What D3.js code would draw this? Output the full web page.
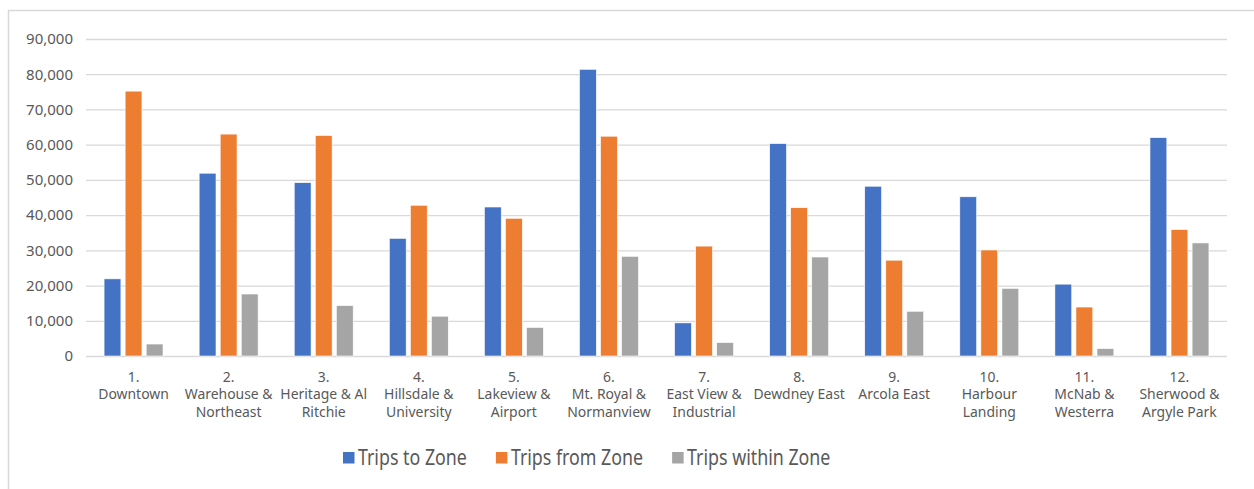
<!DOCTYPE html>
<html>
<head>
<meta charset="utf-8">
<script src="https://cdn.jsdelivr.net/npm/d3@7"></script>
<style>
  body { margin: 0; background: #fff; }
  svg { display: block; font-family: "Noto Sans", "Open Sans", sans-serif; }
</style>
</head>
<body>
<svg id="chart"></svg>
<script>
// Zone names (line breaks as wrapped in the original)
var categories = [
  "1.\nDowntown",
  "2.\nWarehouse &\nNortheast",
  "3.\nHeritage & Al\nRitchie",
  "4.\nHillsdale &\nUniversity",
  "5.\nLakeview &\nAirport",
  "6.\nMt. Royal &\nNormanview",
  "7.\nEast View &\nIndustrial",
  "8.\nDewdney East",
  "9.\nArcola East",
  "10.\nHarbour\nLanding",
  "11.\nMcNab &\nWesterra",
  "12.\nSherwood &\nArgyle Park"
];
var seriesNames = ["Trips to Zone", "Trips from Zone", "Trips within Zone"];
var tripsTo = [21900, 51900, 49200, 33400, 42300, 81400, 9400, 60300, 48200, 45200, 20400, 62000];
var tripsFrom = [75200, 63000, 62600, 42800, 39100, 62400, 31200, 42100, 27200, 30100, 13900, 35900];
var tripsWithin = [3400, 17600, 14300, 11300, 8100, 28300, 3800, 28100, 12700, 19200, 2100, 32100];
var yTicks = [0, 10000, 20000, 30000, 40000, 50000, 60000, 70000, 80000, 90000];

var Chart = (function(d3) {
  var width = 1254, height = 489;
  var plot = { left: 86, right: 1227, top: 39, bottom: 356 };
  var colors = ["#4472C4", "#ED7D31", "#A5A5A5"];
  var textColor = "#595959", gridColor = "#d9d9d9";
  var seriesValues = [tripsTo, tripsFrom, tripsWithin];

  var svg = d3.select("#chart").attr("width", width).attr("height", height);

  // Outer chart frame (cut off at right and bottom like the source)
  svg.append("rect")
    .attr("x", 8.5).attr("y", 10.5)
    .attr("width", 1300).attr("height", 600)
    .attr("fill", "none").attr("stroke", gridColor).attr("stroke-width", 1.5);

  // Scales
  var x0 = d3.scaleBand()
    .domain(categories)
    .range([plot.left, plot.right])
    .paddingInner(0.38)
    .paddingOuter(0.19);
  var x1 = d3.scaleBand()
    .domain(seriesNames)
    .range([0, x0.bandwidth()])
    .paddingInner(0.2);
  var y = d3.scaleLinear()
    .domain([0, 90000])
    .range([plot.bottom, plot.top]);

  // Gridlines + y labels
  var yAxis = d3.axisLeft(y)
    .tickValues(yTicks)
    .tickSize(-(plot.right - plot.left))
    .tickPadding(13)
    .tickFormat(d3.format(","));
  var gy = svg.append("g")
    .attr("transform", "translate(" + plot.left + ",0)")
    .call(yAxis);
  gy.select(".domain").remove();
  gy.selectAll(".tick line").attr("stroke", gridColor).attr("stroke-width", 1.3);
  gy.selectAll(".tick text")
    .attr("fill", textColor)
    .style("font-size", "15px")
    .style("font-family", "'Noto Sans', sans-serif");

  // Bars
  var groups = svg.append("g").selectAll("g")
    .data(categories)
    .enter()
    .append("g")
    .attr("transform", function(d) { return "translate(" + x0(d) + ",0)"; });

  groups.selectAll("rect")
    .data(function(d, i) {
      return seriesNames.map(function(s, j) {
        return { series: s, value: seriesValues[j][i], color: colors[j] };
      });
    })
    .enter()
    .append("rect")
    .attr("x", function(d) { return x1(d.series); })
    .attr("y", function(d) { return y(d.value); })
    .attr("width", x1.bandwidth())
    .attr("height", function(d) { return y(0) - y(d.value); })
    .attr("fill", function(d) { return d.color; })
    .attr("stroke", "#fff")
    .attr("stroke-width", 0.6);

  // Category labels
  var xLabels = svg.append("g").selectAll("text")
    .data(categories)
    .enter()
    .append("text")
    .attr("transform", function(d) {
      return "translate(" + (x0(d) + x0.bandwidth() / 2) + ",382) scale(0.93,1)";
    })
    .attr("text-anchor", "middle")
    .attr("fill", textColor)
    .style("font-size", "15px");
  xLabels.selectAll("tspan")
    .data(function(d) { return d.split("\n"); })
    .enter()
    .append("tspan")
    .attr("x", 0)
    .attr("dy", function(d, i) { return i === 0 ? 0 : 17.3; })
    .text(function(d) { return d; });

  // Legend
  var legend = svg.append("g").attr("transform", "translate(343,0)");
  var lx = 0, squeeze = 0.81;
  seriesNames.forEach(function(name, i) {
    legend.append("rect")
      .attr("x", lx).attr("y", 452)
      .attr("width", 11.5).attr("height", 11.5)
      .attr("fill", colors[i]);
    var t = legend.append("text")
      .attr("transform", "translate(" + (lx + 15) + ",465) scale(" + squeeze + ",1)")
      .attr("fill", textColor)
      .style("font-size", "22px")
      .text(name);
    var w = t.node().getComputedTextLength() * squeeze;
    lx += 15 + w + 29;
  });

  return { svg: svg };
})(d3);
</script>
</body>
</html>
